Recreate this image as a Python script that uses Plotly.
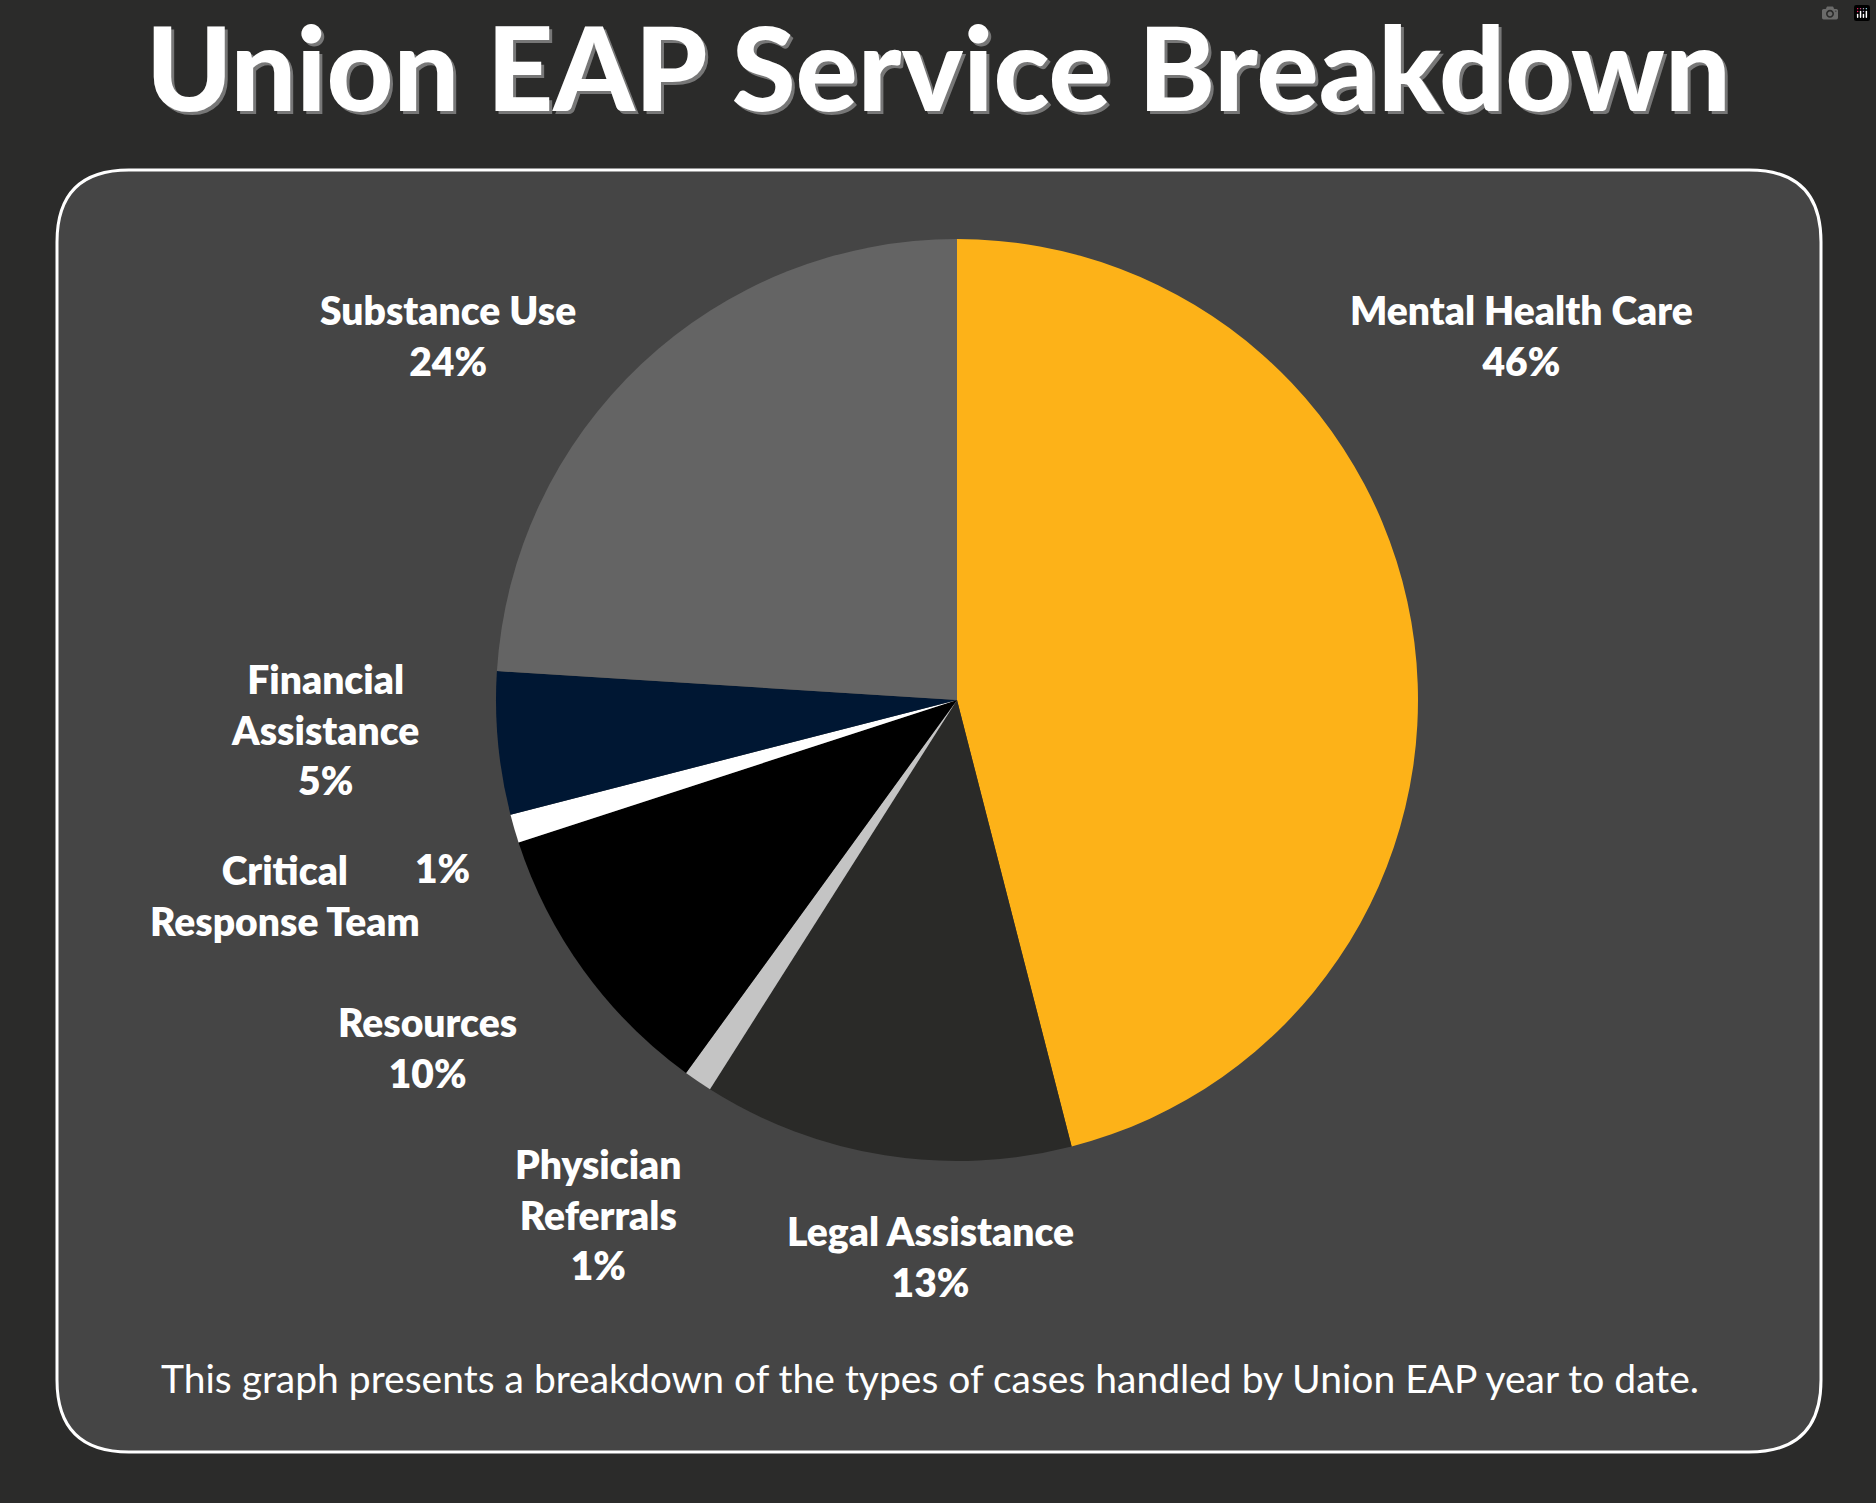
import plotly.graph_objects as go

W, H = 1876, 1503
categories = ["Mental Health Care", "Legal Assistance", "Physician Referrals", "Resources",
              "Critical Response Team", "Financial Assistance", "Substance Use"]
values = [46, 13, 1, 10, 1, 5, 24]
colors = ["#FDB218", "#2A2A28", "#C4C4C4", "#000000", "#FFFFFF", "#001733", "#646464"]

label_texts = ["Mental Health Care<br>46%", "Legal Assistance<br>13%", "Physician<br>Referrals<br>1%",
               "Resources<br>10%", "Critical<br>Response Team", "Financial<br>Assistance<br>5%",
               "Substance Use<br>24%"]
label_pos = [(1521, 335), (930, 1256), (598, 1214), (427, 1047), (285, 895), (325, 730), (448, 335)]

def px(x, y):
    return x / W, 1 - y / H

fig = go.Figure()
fig.add_trace(go.Pie(values=values, labels=categories, marker=dict(colors=colors, line=dict(width=0)),
                     sort=False, direction="clockwise", rotation=0, textinfo="none",
                     hoverinfo="label+percent", showlegend=False,
                     domain=dict(x=[496 / W, 1418 / W], y=[1 - 1161 / H, 1 - 239 / H])))

x0, y0 = px(57, 170)
x1, y1 = px(1821, 1452)
rx, ry = 72 / W, 72 / H
path = (f"M {x0+rx},{y0} L {x1-rx},{y0} Q {x1},{y0} {x1},{y0-ry} L {x1},{y1+ry} "
        f"Q {x1},{y1} {x1-rx},{y1} L {x0+rx},{y1} Q {x0},{y1} {x0},{y1+ry} L {x0},{y0-ry} "
        f"Q {x0},{y0} {x0+rx},{y0} Z")
shapes = [dict(type="path", path=path, xref="paper", yref="paper", fillcolor="#454545",
               line=dict(color="white", width=3), layer="below")]

font_b = dict(family="Lato", size=39, color="white", weight=800)
ann = []
for t, (x, y) in zip(label_texts, label_pos):
    ax, ay = px(x, y)
    ann.append(dict(text=t, x=ax, y=ay, xref="paper", yref="paper", showarrow=False, font=font_b,
                    align="center", xanchor="center", yanchor="middle"))
ax, ay = px(442, 868)
ann.append(dict(text="1%", x=ax, y=ay, xref="paper", yref="paper", showarrow=False, font=font_b,
                xanchor="center", yanchor="middle"))
tx, ty = px(938, 66)
ann.append(dict(text="Union EAP Service Breakdown", x=tx, y=ty, xref="paper", yref="paper",
                showarrow=False, font=dict(family="Lato", size=116, color="white", weight=900,
                                           shadow="3px 3px 0 #777"),
                xanchor="center", yanchor="middle"))
fx, fy = px(930, 1378)
ann.append(dict(text="This graph presents a breakdown of the types of cases handled by Union EAP year to date.",
                x=fx, y=fy, xref="paper", yref="paper", showarrow=False,
                font=dict(family="Lato", size=39, color="white"), xanchor="center", yanchor="middle"))

fig.update_layout(width=W, height=H, margin=dict(l=0, r=0, t=0, b=0),
                  paper_bgcolor="#2B2B2A", plot_bgcolor="#2B2B2A",
                  shapes=shapes, annotations=ann)
fig.write_html("out.html", post_script="document.body.style.margin='0';document.body.style.background='#2B2B2A';")
